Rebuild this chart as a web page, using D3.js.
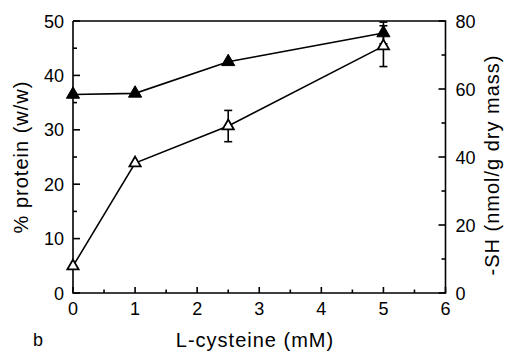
<!DOCTYPE html>
<html>
<head>
<meta charset="utf-8">
<script src="https://cdn.jsdelivr.net/npm/d3@7"></script>
<style>
  html, body { margin: 0; padding: 0; background: #fff; }
  svg text { font-family: "Liberation Sans", Arial, Helvetica, sans-serif; fill: #000; }
</style>
</head>
<body>
<svg id="chart" width="506" height="352"></svg>
<script>
// L-cysteine concentration (mM)
const cysteine = [0, 1, 2.5, 5];
// % protein (w/w), left axis (filled triangles)
const protein = [36.5, 36.7, 42.5, 47.8];
const proteinErr = [0, 0, 0, 2.0];
// -SH content (nmol/g dry mass), right axis (open triangles)
const thiol = [7.9, 38.2, 49.1, 72.6];
const thiolErr = [0, 0, 4.6, 6.0];

const xTicks = [0, 1, 2, 3, 4, 5, 6];
const leftTicks = [0, 10, 20, 30, 40, 50];
const rightTicks = [0, 20, 40, 60, 80];

const svg = d3.select("#chart");
const L = 73, R = 445.5, T = 21, B = 293;

const x = d3.scaleLinear().domain([0, 6]).range([L, R]);
const yL = d3.scaleLinear().domain([0, 50]).range([B, T]);
const yR = d3.scaleLinear().domain([0, 80]).range([B, T]);

const lw = 1.6;

// frame: left, bottom, right axes and top border
svg.append("path")
  .attr("d", `M${L},${T}V${B}H${R}V${T}H${L}`)
  .attr("fill", "none").attr("stroke", "#000").attr("stroke-width", lw);

// x-axis ticks (inward) and labels
const xMinor = d3.range(0.5, 6, 1);
svg.append("g").selectAll("line").data(xTicks).join("line")
  .attr("x1", d => x(d)).attr("x2", d => x(d))
  .attr("y1", B).attr("y2", B - 6)
  .attr("stroke", "#000").attr("stroke-width", lw);
svg.append("g").selectAll("line").data(xMinor).join("line")
  .attr("x1", d => x(d)).attr("x2", d => x(d))
  .attr("y1", B).attr("y2", B - 3.5)
  .attr("stroke", "#000").attr("stroke-width", lw);
svg.append("g").selectAll("text").data(xTicks).join("text")
  .attr("x", d => x(d)).attr("y", B + 22)
  .attr("text-anchor", "middle").attr("font-size", 18)
  .text(d => d);

// left axis ticks and labels
const lMinor = d3.range(5, 50, 10);
svg.append("g").selectAll("line").data(leftTicks).join("line")
  .attr("x1", L).attr("x2", L + 7)
  .attr("y1", d => yL(d)).attr("y2", d => yL(d))
  .attr("stroke", "#000").attr("stroke-width", lw);
svg.append("g").selectAll("line").data(lMinor).join("line")
  .attr("x1", L).attr("x2", L + 4)
  .attr("y1", d => yL(d)).attr("y2", d => yL(d))
  .attr("stroke", "#000").attr("stroke-width", lw);
svg.append("g").selectAll("text").data(leftTicks).join("text")
  .attr("x", L - 9).attr("y", d => yL(d) + 6.5)
  .attr("text-anchor", "end").attr("font-size", 18)
  .text(d => d);

// right axis ticks and labels
const rMinor = d3.range(10, 80, 20);
svg.append("g").selectAll("line").data(rightTicks).join("line")
  .attr("x1", R).attr("x2", R - 7)
  .attr("y1", d => yR(d)).attr("y2", d => yR(d))
  .attr("stroke", "#000").attr("stroke-width", lw);
svg.append("g").selectAll("line").data(rMinor).join("line")
  .attr("x1", R).attr("x2", R - 4)
  .attr("y1", d => yR(d)).attr("y2", d => yR(d))
  .attr("stroke", "#000").attr("stroke-width", lw);
svg.append("g").selectAll("text").data(rightTicks).join("text")
  .attr("x", R + 10).attr("y", d => yR(d) + 6.5)
  .attr("text-anchor", "start").attr("font-size", 18)
  .text(d => d);

// axis titles
svg.append("text")
  .attr("transform", `translate(28,${(T + B) / 2}) rotate(-90)`)
  .attr("text-anchor", "middle").attr("font-size", 20).attr("letter-spacing", 1)
  .text("% protein (w/w)");
svg.append("text")
  .attr("transform", `translate(499,${(T + B) / 2 + 8}) rotate(-90)`)
  .attr("text-anchor", "middle").attr("font-size", 20).attr("letter-spacing", 1)
  .text("-SH (nmol/g dry mass)");
svg.append("text")
  .attr("x", 255).attr("y", 347)
  .attr("text-anchor", "middle").attr("font-size", 20).attr("letter-spacing", 1)
  .text("L-cysteine (mM)");
// panel letter
svg.append("text")
  .attr("x", 33).attr("y", 346)
  .attr("font-size", 18)
  .text("b");

const proteinPts = cysteine.map((c, i) => ({ x: c, y: protein[i], e: proteinErr[i] }));
const thiolPts = cysteine.map((c, i) => ({ x: c, y: thiol[i], e: thiolErr[i] }));

const line = (ys) => d3.line().x(d => x(d.x)).y(d => ys(d.y));

function errorBars(pts, ys) {
  const g = svg.append("g").attr("stroke", "#000").attr("stroke-width", lw);
  pts.filter(d => d.e > 0).forEach(d => {
    const cx = x(d.x), y1 = ys(d.y - d.e), y2 = ys(d.y + d.e);
    g.append("line").attr("x1", cx).attr("x2", cx).attr("y1", y1).attr("y2", y2);
    g.append("line").attr("x1", cx - 4).attr("x2", cx + 4).attr("y1", y1).attr("y2", y1);
    g.append("line").attr("x1", cx - 4).attr("x2", cx + 4).attr("y1", y2).attr("y2", y2);
  });
}

// -SH series: open triangles
errorBars(thiolPts, yR);
svg.append("path").datum(thiolPts)
  .attr("d", line(yR)).attr("fill", "none").attr("stroke", "#000").attr("stroke-width", lw);

// protein series: filled triangles
errorBars(proteinPts, yL);
svg.append("path").datum(proteinPts)
  .attr("d", line(yL)).attr("fill", "none").attr("stroke", "#000").attr("stroke-width", lw);

svg.append("g").selectAll("path").data(thiolPts).join("path")
  .attr("transform", d => `translate(${x(d.x)},${yR(d.y)})`)
  .attr("d", d3.symbol(d3.symbolTriangle, 55))
  .attr("fill", "#fff").attr("stroke", "#000").attr("stroke-width", 1.8);

svg.append("g").selectAll("path").data(proteinPts).join("path")
  .attr("transform", d => `translate(${x(d.x)},${yL(d.y)})`)
  .attr("d", d3.symbol(d3.symbolTriangle, 75))
  .attr("fill", "#000").attr("stroke", "#000").attr("stroke-width", 1);
</script>
</body>
</html>
